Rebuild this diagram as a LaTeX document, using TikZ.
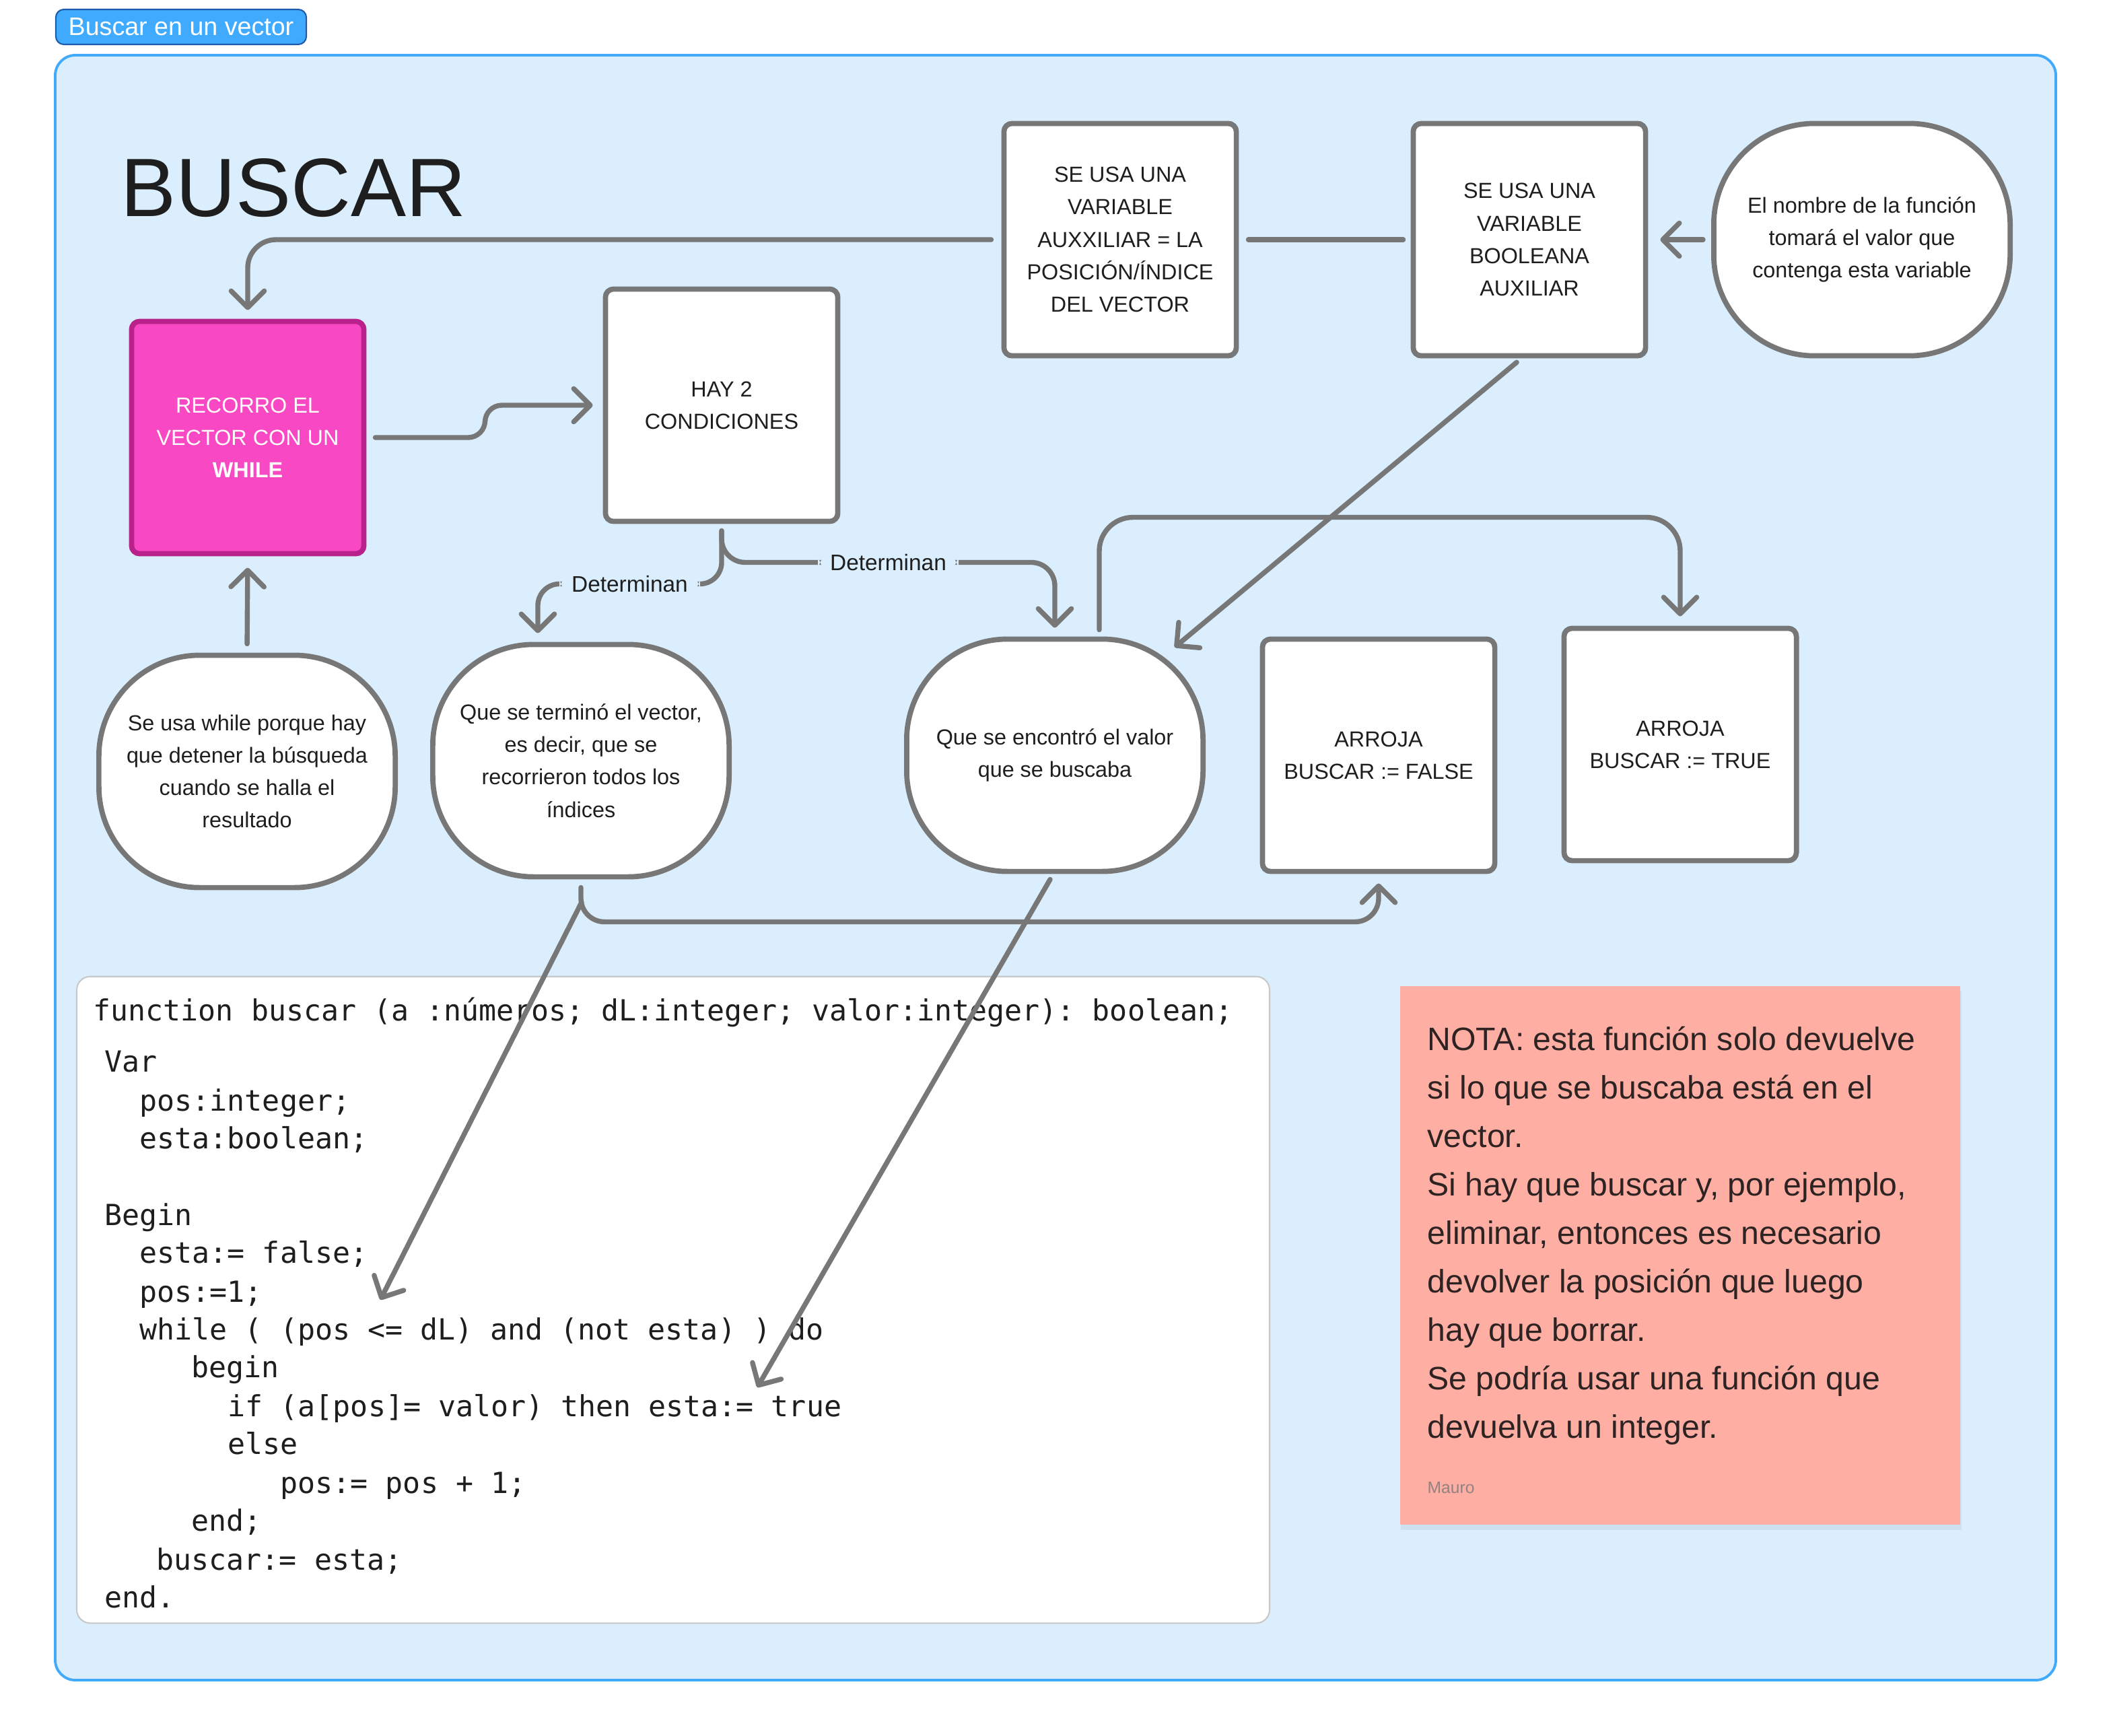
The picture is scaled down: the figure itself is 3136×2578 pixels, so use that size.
\documentclass[tikz,border=0pt]{standalone}
\usepackage{fontspec}
\setmainfont{Liberation Sans}
\setmonofont{DejaVu Sans Mono}
\usetikzlibrary{arrows.meta,calc}

\definecolor{fondo}{RGB}{218,238,253}
\definecolor{marcoazul}{RGB}{66,170,250}
\definecolor{tabazul}{RGB}{64,170,255}
\definecolor{tabborde}{RGB}{30,90,170}
\definecolor{gris}{RGB}{119,119,119}
\definecolor{rosa}{RGB}{249,72,196}
\definecolor{rosaborde}{RGB}{184,34,138}
\definecolor{salmon}{RGB}{255,174,163}
\definecolor{texto}{RGB}{30,30,30}
\definecolor{notatexto}{RGB}{45,35,35}
\definecolor{codeborde}{RGB}{200,200,200}

\newcommand\cajafont{\fontsize{9.2pt}{13.7pt}\selectfont}

\tikzset{
  enlace/.style={draw=gris, line width=2.1pt, line cap=round},
  conn/.style={enlace, -{Straight Barb[length=7pt,width=14pt,round]}},
  caja/.style={draw=gris, line width=2.2pt, fill=white, rounded corners=0.12cm,
    minimum width=3.45cm, minimum height=3.45cm, align=center, text=texto, font=\cajafont},
  ovalo/.style={caja, rounded corners=1.5cm, minimum width=4.4cm},
  etiqueta/.style={fill=fondo, text=texto, inner xsep=0.18cm, inner ysep=0.08cm,
    font=\fontsize{9.5pt}{11pt}\selectfont},
  tab/.style={draw=tabborde, fill=tabazul, line width=0.6pt, rounded corners=0.12cm,
    minimum width=3.72cm, minimum height=0.52cm, inner sep=0, text=white,
    font=\fontsize{10.7pt}{12pt}\selectfont},
  marco/.style={draw=marcoazul, fill=fondo, line width=1.1pt, rounded corners=0.3cm},
  titulo/.style={inner sep=0, text=texto, font=\fontsize{35pt}{40pt}\selectfont},
  codigo/.style={draw=codeborde, fill=white, line width=0.6pt, rounded corners=0.2cm,
    minimum width=17.71cm, minimum height=9.6cm},
  cod/.style={anchor=base west, inner sep=0, text=texto,
    font=\ttfamily\fontsize{12.3pt}{14pt}\selectfont},
  nota/.style={fill=salmon, minimum width=8.31cm, minimum height=7.99cm},
  notatxt/.style={anchor=base west, inner sep=0, text=notatexto,
    font=\fontsize{13.7pt}{16pt}\selectfont},
}

\begin{document}
\begin{tikzpicture}[x=0.01cm,y=-0.01cm]
\useasboundingbox (0,0) rectangle (3136,2578);

% pestana y marco
\node[tab] (tab) at (269,40) {Buscar en un vector};
\draw[marco] (82,82) rectangle (3054,2496);
\node[titulo,anchor=base west] (titulo) at (179,321) {BUSCAR};

% fila de arriba
\node[caja] (aux) at (1664,356) {SE USA UNA\\VARIABLE\\AUXXILIAR = LA\\POSICIÓN/ÍNDICE\\DEL VECTOR};
\node[caja] (bool) at (2272,356) {SE USA UNA\\VARIABLE\\BOOLEANA\\AUXILIAR};
\node[ovalo] (nombre) at (2766,356) {El nombre de la función\\tomará el valor que\\contenga esta variable};
\node[caja,fill=rosa,draw=rosaborde,text=white] (recorro) at (368,650) {RECORRO EL\\VECTOR CON UN\\\textbf{WHILE}};
\node[caja] (hay) at (1072,602) {HAY 2\\CONDICIONES};

% fila del medio
\node[ovalo] (sewhile) at (367,1146) {Se usa while porque hay\\que detener la búsqueda\\cuando se halla el\\resultado};
\node[ovalo] (termino) at (863,1130) {Que se terminó el vector,\\es decir, que se\\recorrieron todos los\\índices};
\node[ovalo] (encontro) at (1567,1122) {Que se encontró el valor\\que se buscaba};
\node[caja] (arrojaf) at (2048,1122) {ARROJA\\BUSCAR := FALSE};
\node[caja] (arrojat) at (2496,1106) {ARROJA\\BUSCAR := TRUE};

% codigo
\node[codigo] (codebox) at (1000,1931) {};
\foreach \yy/\xx/\t [count=\i] in {
  1516/138/function buscar (a :números; dL:integer; valor:integer): boolean;,
  1592/155/Var,
  1650/207/pos:integer;,
  1706/207/esta:boolean;,
  1820/155/Begin,
  1876/207/esta:= false;,
  1934/207/pos:=1;,
  1990/207/while ( (pos <= dL) and (not esta) ) do,
  2046/284/begin,
  2104/338/if (a[pos]= valor) then esta:= true,
  2160/338/else,
  2218/416/pos:= pos + 1;,
  2274/284/end;,
  2332/232/buscar:= esta;,
  2388/155/end.}
  \node[cod] (c\i) at (\xx,\yy) {\t};

% nota
\fill[black,opacity=0.05] (2081,1472) rectangle (2914,2273);
\node[nota] (nota) at (2496,1865) {};
\foreach \t [count=\i] in {NOTA: esta función solo devuelve, si lo que se buscaba está en el,
  vector., {Si hay que buscar y, por ejemplo,}, {eliminar, entonces es necesario},
  devolver la posición que luego, hay que borrar., Se podría usar una función que,
  devuelva un integer.}
  \node[notatxt] (n\i) at (2120,{1560+72*(\i-1)}) {\t};
\node[anchor=base west, inner sep=0, text=gris!80!salmon, font=\fontsize{7pt}{8pt}\selectfont] (mauro) at (2120,2218) {Mauro};

% conectores
\coordinate (fin1) at (565,1931);
\coordinate (fin2) at (1125,2061);
\draw[conn,rounded corners=0.42cm,shorten <=0.15cm,shorten >=0.13cm] (aux.west) -| (recorro.north);
\draw[enlace,shorten <=0.14cm,shorten >=0.11cm] (aux.east) -- (bool.west);
\draw[conn,shorten <=0.12cm,shorten >=0.18cm] (nombre.west) -- (bool.east);
\draw[conn,rounded corners=0.25cm,shorten <=0.13cm,shorten >=0.15cm] (recorro.east) -| ($(hay.west)+(-175,0)$) -- (hay.west);
\draw[conn,shorten <=0.13cm,shorten >=0.17cm] (sewhile.north) -- (recorro.south);
\draw[conn,rounded corners=0.32cm,shorten <=0.1cm] (hay.south) |- node[etiqueta,pos=0.75] (det1) {Determinan} ++(-273,89) -- ++(0,73);
\draw[conn,rounded corners=0.35cm,shorten <=0.1cm,shorten >=0.13cm] (hay.south) |- node[etiqueta,pos=0.75] (det2) {Determinan} ++(495,57) -- (encontro.north);
\draw[conn,rounded corners=0.5cm,shorten <=0.1cm,shorten >=0.14cm] ($(encontro.north)+(66,0)$) -- ++(0,-177) -| (arrojat.north);
\draw[conn,shorten <=0.09cm] ($(bool.south)+(-12,0)$) -- ($(encontro.north)+(178,16)$);
\draw[conn,rounded corners=0.35cm,shorten <=0.12cm,shorten >=0.14cm] (termino.south) -- ++(0,63) -| (arrojaf.south);
\draw[conn] ($(termino.south)+(1,34)$) -- (fin1);
\draw[conn] ($(encontro.south)+(-7,8)$) -- (fin2);
\end{tikzpicture}
\end{document}
